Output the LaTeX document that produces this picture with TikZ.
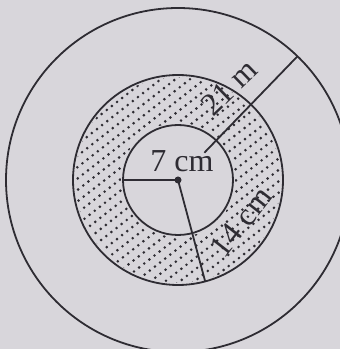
\documentclass[tikz,border=0pt]{standalone}
\usepackage{fontspec}
\setmainfont{Liberation Serif}
\usetikzlibrary{calc}
\begin{document}
\begin{tikzpicture}[x=1pt,y=1pt,
  ring/.style={circle, draw=ink, line width=1.8pt, inner sep=0pt, outer sep=0pt},
  rad/.style={draw=ink, line width=1.8pt},
  dotrow/.style={draw=ink, line width=2.9pt, line cap=round, dash pattern=on 0pt off 6.5pt},
  lab/.style={font=\fontsize{32}{32}\selectfont, text=ink, inner sep=0pt}]
\definecolor{ink}{HTML}{2E2C33}
\definecolor{paper}{HTML}{D8D6DB}
\useasboundingbox (0,0) rectangle (340,349);
\fill[paper] (0,0) rectangle (340,349);
\clip (0,0) rectangle (340,349);
\coordinate (C) at (178,169);
% dotted shading in the annulus
\begin{scope}
  \clip (C) circle (103);
  \begin{scope}[shift={(C)}, rotate=38]
    \foreach \k in {-12,...,12} {
      \draw[dotrow] (-117,{9*\k}) -- (117,{9*\k});
    }
  \end{scope}
\end{scope}
\fill[paper] (C) circle (57);
\node[ring, minimum size=344] (outer) at (C) {};
\node[ring, minimum size=210] (mid) at (C) {};
\node[ring, minimum size=110] (inner) at (C) {};
\coordinate (s) at ($(C)+(46:38)$);
\draw[rad] (C) -- (inner.180);
\draw[rad] (C) -- (mid.-75.5);
\draw[rad] (s) -- (outer.46);
\fill[ink] (C) circle (3.5);
\node[lab] (t7) at (182,188) {7 cm};
\node[lab, rotate=44] (t21) at (229,262) {21 m};
\node[lab, rotate=52] (t14) at (241,127) {14 cm};
\end{tikzpicture}
\end{document}
